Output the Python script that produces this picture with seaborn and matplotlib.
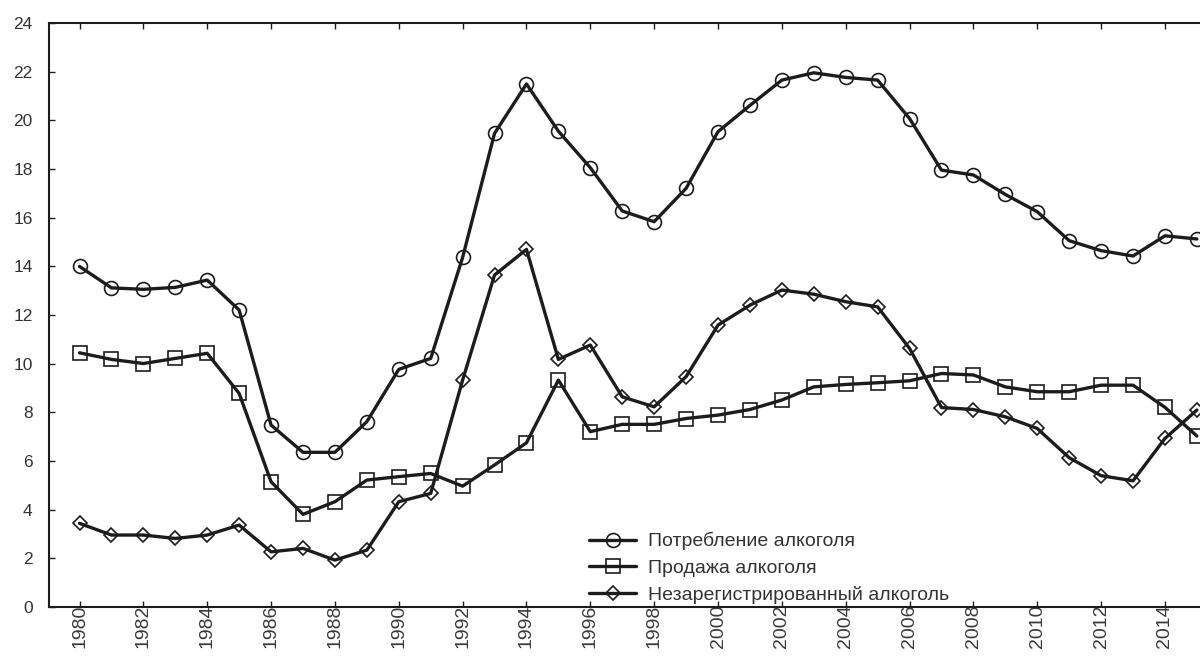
import pandas as pd
import matplotlib.pyplot as plt
import seaborn as sb

# data
years = list(range(1980, 2016))
consumption = [14.0, 13.12, 13.06, 13.14, 13.44, 12.21, 7.48, 6.36, 6.36, 7.62,
               9.77, 10.22, 14.37, 19.47, 21.5, 19.56, 18.06, 16.28, 15.84, 17.21,
               19.54, 20.62, 21.66, 21.96, 21.77, 21.66, 20.08, 17.96, 17.76, 16.96,
               16.25, 15.06, 14.65, 14.43, 15.26, 15.13]
sales = [10.45, 10.18, 10.01, 10.22, 10.43, 8.78, 5.15, 3.81, 4.33, 5.22,
         5.36, 5.49, 4.97, 5.84, 6.75, 9.33, 7.21, 7.51, 7.51, 7.75,
         7.89, 8.12, 8.51, 9.05, 9.15, 9.22, 9.3, 9.6, 9.54, 9.05,
         8.85, 8.85, 9.12, 9.12, 8.21, 7.03]
unregistered = [3.44, 2.96, 2.96, 2.82, 2.96, 3.37, 2.27, 2.41, 1.93, 2.34,
                4.33, 4.67, 9.33, 13.65, 14.7, 10.18, 10.77, 8.64, 8.23, 9.47,
                11.59, 12.41, 13.03, 12.86, 12.55, 12.34, 10.63, 8.2, 8.12, 7.82,
                7.34, 6.14, 5.4, 5.19, 6.93, 8.1]
labels = ["Потребление алкоголя", "Продажа алкоголя", "Незарегистрированный алкоголь"]

df = pd.concat([
    pd.DataFrame({"year": years, "value": consumption, "series": labels[0]}),
    pd.DataFrame({"year": years, "value": sales, "series": labels[1]}),
    pd.DataFrame({"year": years, "value": unregistered, "series": labels[2]}),
])

sb.set_style("white")
plt.rcParams['font.family'] = ['Liberation Sans', 'DejaVu Sans']

ink = "#1c1c1c"
fig = plt.figure(figsize=(12, 6.62), dpi=100)
ax = fig.add_axes([0.041, 0.083, 0.983, 0.882])

sb.lineplot(data=df, x="year", y="value", hue="series", style="series",
            palette=[ink, ink, ink], markers={labels[0]: "o", labels[1]: "s", labels[2]: "D"},
            dashes=False, linewidth=2.4, markersize=10, markerfacecolor="none",
            markeredgecolor=ink, markeredgewidth=1.2, ax=ax)
# diamonds are a bit smaller in the reference
for line in ax.lines:
    if line.get_marker() == "D":
        line.set_markersize(7)

ax.set_xlim(1979.05, 2016)
ax.set_ylim(0, 24)
ax.set_yticks(range(0, 25, 2))
ax.set_xticks(range(1980, 2016, 2))
ax.set_xticklabels([str(y) for y in range(1980, 2016, 2)], rotation=90, va="top")
ax.tick_params(axis="both", direction="in", length=4, width=1, colors=ink,
               labelsize=12.5, labelcolor="#333333", top=True, left=True, bottom=True)
ax.tick_params(axis="x", pad=-2, labelsize=14, labelcolor="#3a3a3a")
ax.tick_params(axis="y", pad=12)
for side in ["left", "bottom", "top"]:
    ax.spines[side].set_color(ink)
    ax.spines[side].set_linewidth(1.5)
ax.spines["right"].set_visible(False)
ax.set_xlabel("")
ax.set_ylabel("")

leg = ax.legend(loc="lower left", bbox_to_anchor=(0.443, -0.024), frameon=False,
                fontsize=14, handlelength=2.4, labelspacing=0.45, handletextpad=0.6)
for t in leg.get_texts():
    t.set_color("#333333")

plt.savefig("out.png", dpi=100)
